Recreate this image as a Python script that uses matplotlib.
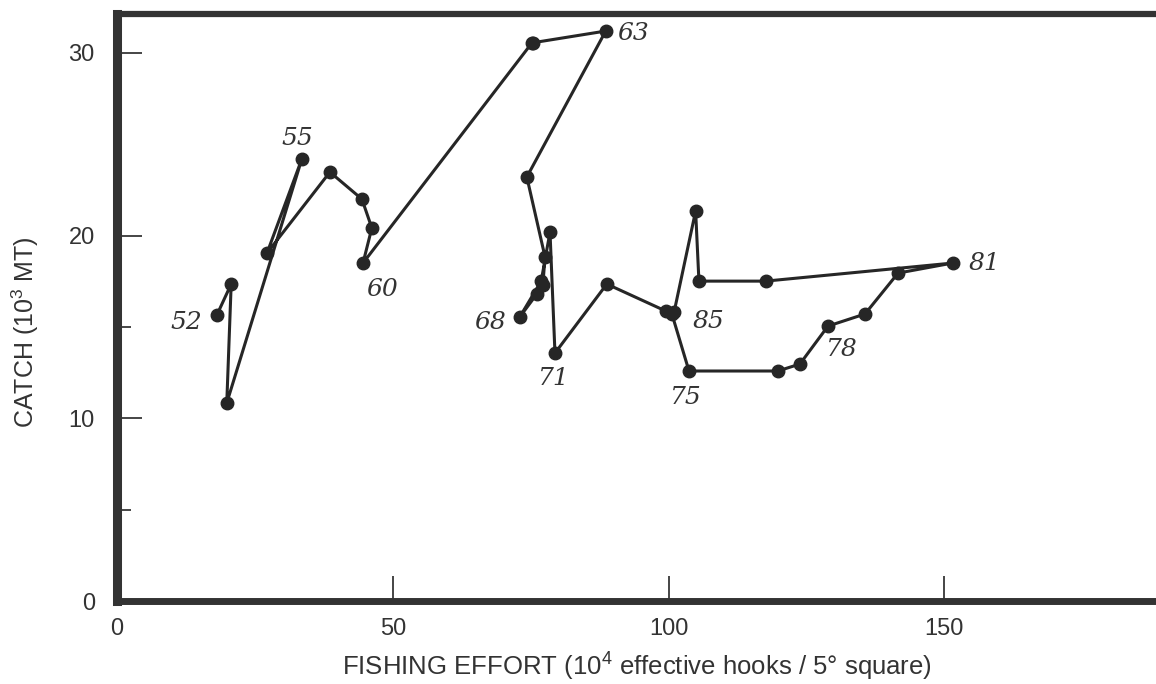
import matplotlib

matplotlib.use("Agg")
import matplotlib.pyplot as plt

# catch vs fishing effort, one point per year 1952-1985
years = list(range(52, 86))
effort = [
    18.1, 20.7, 19.9, 33.5, 27.2, 38.6, 44.4, 46.2, 44.6, 75.2,
    75.4, 88.6, 74.3, 77.6, 77.2, 76.1, 73.0, 76.9, 78.5, 79.4,
    88.8, 99.5, 100.6, 103.7, 119.8, 123.8, 128.9, 135.6, 141.6, 151.5,
    117.6, 105.5, 104.9, 101.0,
]
catch = [
    15.65, 17.35, 10.84, 24.19, 19.05, 23.48, 22.0, 20.42, 18.5, 30.54,
    30.56, 31.2, 23.21, 18.83, 17.30, 16.80, 15.54, 17.51, 20.20, 13.57,
    17.35, 15.87, 15.71, 12.59, 12.59, 12.97, 15.05, 15.71, 17.95, 18.50,
    17.51, 17.51, 21.35, 15.82,
]
labelled_years = [52, 55, 60, 63, 68, 71, 75, 78, 81, 85]

# label placement relative to the point (points)
label_offsets = {
    52: (-22, -5), 55: (-3, 15), 60: (14, -19), 63: (20, -2), 68: (-21, -4),
    71: (-1, -18), 75: (-2, -19), 78: (10, -17), 81: (23, 0), 85: (25, -7),
}

plt.rcParams["font.family"] = ["Liberation Sans", "DejaVu Sans"]
plt.rcParams["mathtext.fontset"] = "custom"
plt.rcParams["mathtext.rm"] = "Liberation Sans"

W, H = 1156, 684
fig = plt.figure(figsize=(W / 100, H / 100), dpi=100)
ax = fig.add_axes([117 / W, (H - 601) / H, (1170 - 117) / W, (601 - 13.5) / H])

ink = "#262626"
ax.plot(effort, catch, color=ink, linewidth=2.2, marker="o", markersize=9,
        markerfacecolor=ink, markeredgecolor=ink, zorder=3)

for yr in labelled_years:
    i = years.index(yr)
    ax.annotate(str(yr), (effort[i], catch[i]), xytext=label_offsets[yr],
                textcoords="offset points", ha="center", va="center",
                fontsize=18, fontstyle="italic", family=["DejaVu Serif"],
                color="#333333")

ax.set_xlim(0, 190.9)
ax.set_ylim(0, 32.16)
ax.set_xticks([0, 50, 100, 150])
ax.set_yticks([0, 10, 20, 30])
ax.set_yticks([5, 15], minor=True)
ax.tick_params(axis="both", which="major", direction="in", length=18, width=1.2,
               colors=ink, labelsize=17, labelcolor="#333333")
ax.tick_params(axis="x", which="major", pad=12)
ax.tick_params(axis="y", which="major", pad=16)
ax.tick_params(axis="y", which="minor", direction="in", length=10, width=1.2, colors=ink)

ax.spines["right"].set_visible(False)
ax.spines["left"].set_linewidth(6.5)
ax.spines["top"].set_linewidth(4.5)
ax.spines["bottom"].set_linewidth(5)
for side in ("left", "top", "bottom"):
    ax.spines[side].set_color("#333333")

ax.set_xlabel("FISHING EFFORT (10$^4$ effective hooks / 5° square)", fontsize=18.5, color="#333333")
ax.set_ylabel("CATCH (10$^3$ MT)", fontsize=18, color="#333333")
ax.xaxis.set_label_coords((637 - 117) / 1053, -0.082)
ax.yaxis.set_label_coords(-0.072, (601 - 332) / 587.5)

fig.savefig("out.png", dpi=100, facecolor="white")
